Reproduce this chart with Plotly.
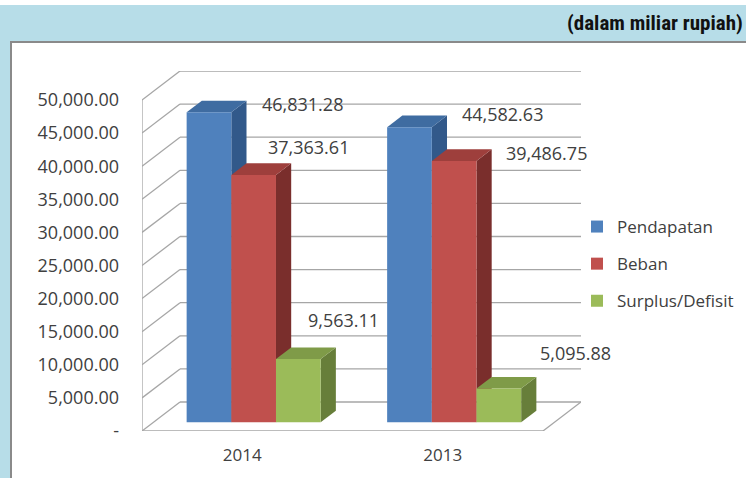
import plotly.graph_objects as go

# ---------------- data ----------------
categories = ["2014", "2013"]
series_names = ["Pendapatan", "Beban", "Surplus/Defisit"]
pendapatan = [46831.28, 44582.63]
beban = [37363.61, 39486.75]
surplus = [9563.11, 5095.88]
y_ticks = [0, 5000, 10000, 15000, 20000, 25000, 30000, 35000, 40000, 45000, 50000]
title_text = "(dalam miliar rupiah)"

# ---------------- styles ----------------
front_colors = ["#4F81BD", "#C0504D", "#9BBB59"]
top_colors = ["#3F6CA1", "#9E3F3C", "#7F9B48"]
side_colors = ["#32598A", "#7A2E2C", "#677E3A"]
# data-label pixel offsets (x right, y up) per series per category
label_shift = [[(94, 8), (93, 13)], [(55, 28), (92, 8)], [(45, 39), (77, 36)]]
grid_color = "#A6A6A6"
text_color = "#404040"
FONT = "Open Sans, Noto Sans, sans-serif"

W, H = 746, 478
L, R, T, B = 142, 165, 71, 47
PW, PH = W - L - R, H - T - B
DEPTH_X_PX, DEPTH_Y_PX = 38, 29
n = len(categories)
ymax = y_ticks[-1]
ppx = (PW - DEPTH_X_PX) / n
ppy = (PH - DEPTH_Y_PX) / ymax
DX = DEPTH_X_PX / ppx
DY = DEPTH_Y_PX / ppy
F1 = 0.3          # depth fraction where bar front faces sit
DD = 0.4          # bar depth fraction
BW = 0.2228       # bar width (category units)
x_lo, x_hi = -0.5, n - 0.5


def pxx(px):
    return (px - L) / PW


def pxy(py):
    return (H - B - py) / PH


series_vals = [pendapatan, beban, surplus]
fig = go.Figure()
shapes = []
annotations = []

# decoration: white strip on top and white content box
shapes.append(dict(type="rect", xref="paper", yref="paper", layer="below",
                   x0=pxx(-5), x1=pxx(W + 5), y0=pxy(-5), y1=pxy(5),
                   fillcolor="white", line=dict(width=0)))
shapes.append(dict(type="rect", xref="paper", yref="paper", layer="below",
                   x0=pxx(11), x1=pxx(W + 20), y0=pxy(42), y1=pxy(H + 20),
                   fillcolor="white", line=dict(color="#8A8A8A", width=2)))

# 3D walls / gridlines
gl = dict(color=grid_color, width=1.3)
for v in y_ticks:
    shapes.append(dict(type="line", xref="x", yref="y", layer="below",
                       x0=x_lo + DX, x1=x_hi + DX, y0=v + DY, y1=v + DY, line=gl))
    shapes.append(dict(type="line", xref="x", yref="y", layer="below",
                       x0=x_lo, x1=x_lo + DX, y0=v, y1=v + DY, line=gl))
shapes.append(dict(type="line", xref="x", yref="y", layer="below",
                   x0=x_lo, x1=x_lo, y0=0, y1=ymax, line=gl))
shapes.append(dict(type="line", xref="x", yref="y", layer="below",
                   x0=x_lo, x1=x_hi, y0=0, y1=0, line=gl))
shapes.append(dict(type="line", xref="x", yref="y", layer="below",
                   x0=x_hi, x1=x_hi + DX, y0=0, y1=DY, line=gl))

base = F1 * DY
dx, dy = DD * DX, DD * DY
for j, (name, vals) in enumerate(zip(series_names, series_vals)):
    xs = [i + F1 * DX + (j - 1) * BW for i in range(n)]
    fig.add_trace(go.Bar(x=xs, y=vals, base=[base] * n, width=BW, name=name,
                         legendgroup=name,
                         marker=dict(color=front_colors[j], line=dict(width=0)),
                         hoverinfo="skip"))
for i in range(n):
    for j, vals in enumerate(series_vals):
        xc = i + F1 * DX + (j - 1) * BW
        xl, xr = xc - BW / 2, xc + BW / 2
        t = base + vals[i]
        shapes.append(dict(type="path", xref="x", yref="y", layer="below",
                           path=f"M{xr},{base} L{xr},{t} L{xr+dx},{t+dy} L{xr+dx},{base+dy} Z",
                           fillcolor=side_colors[j], line=dict(width=0)))
        shapes.append(dict(type="path", xref="x", yref="y", layer="below",
                           path=f"M{xl},{t} L{xr},{t} L{xr+dx},{t+dy} L{xl+dx},{t+dy} Z",
                           fillcolor=top_colors[j], line=dict(width=0)))
        sx, sy = label_shift[j][i]
        annotations.append(dict(x=xc, y=t, xref="x", yref="y", text=f"{vals[i]:,.2f}",
                                showarrow=False, xshift=sx, yshift=sy,
                                font=dict(family=FONT, size=18, color=text_color)))

annotations.append(dict(x=pxx(745), y=pxy(23), xref="paper", yref="paper",
                        xanchor="right", yanchor="middle", showarrow=False,
                        text=f"<b>{title_text}</b>",
                        font=dict(family="Liberation Sans Narrow, Arial Narrow, Roboto Condensed, sans-serif",
                                  size=21, color="#111111")))

tick_text = ["-" if v == 0 else f"{v:,.2f}" for v in y_ticks]

fig.update_layout(
    width=W, height=H,
    margin=dict(l=L, r=R, t=T, b=B, pad=0, autoexpand=False),
    paper_bgcolor="#B7DDE8",
    plot_bgcolor="rgba(0,0,0,0)",
    barmode="overlay",
    shapes=shapes,
    annotations=annotations,
    showlegend=True,
    legend=dict(x=pxx(577), y=pxy(209), xanchor="left", yanchor="top",
                bgcolor="rgba(0,0,0,0)", tracegroupgap=12,
                font=dict(family=FONT, size=17, color=text_color)),
    xaxis=dict(range=[x_lo, x_hi + DX], tickvals=list(range(n)), ticktext=categories,
               showgrid=False, zeroline=False, showline=False, ticks="",
               ticklabelstandoff=12, fixedrange=True, automargin=False,
               tickfont=dict(family=FONT, size=17, color=text_color)),
    yaxis=dict(range=[0, ymax + DY], tickvals=y_ticks, ticktext=tick_text,
               showgrid=False, zeroline=False, showline=False, ticks="",
               ticklabelstandoff=22, fixedrange=True, automargin=False,
               tickfont=dict(family=FONT, size=18, color=text_color)),
)

fig.write_html("out.html",
               post_script="document.body.style.margin='0px';document.body.style.overflow='hidden';",
               config={"displayModeBar": False, "responsive": False})
